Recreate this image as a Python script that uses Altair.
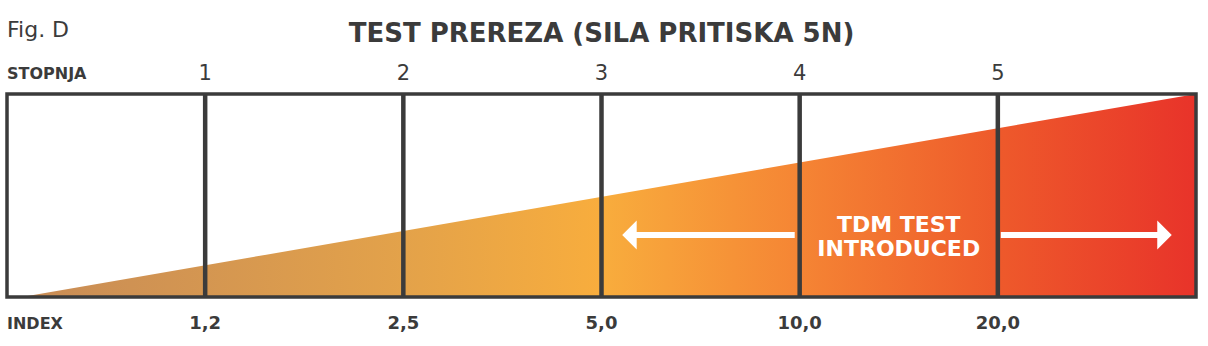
import altair as alt
import pandas as pd

# ---- data ----
stage_positions = [1, 2, 3, 4, 5]
stage_labels = ["1", "2", "3", "4", "5"]
index_labels = ["1,2", "2,5", "5,0", "10,0", "20,0"]
box_x = [0]
box_x2 = [6]
wedge_x = [0.075, 6]
wedge_y = [0, 1]
arrow_dir = ["left", "right"]
arrow_from = [3.975, 5.015]
arrow_to = [3.141, 5.841]
note_lines = ["TDM TEST", "INTRODUCED"]
note_x = 4.5
title_text = "TEST PREREZA (SILA PRITISKA 5N)"
fig_label = "Fig. D"
top_axis_title = "STOPNJA"
bottom_axis_title = "INDEX"

GREY = "#3b3b3b"
FONT = "DejaVu Sans"

xs = alt.Scale(domain=[0, 6], nice=False, zero=False)
ys = alt.Scale(domain=[0, 1], nice=False, zero=False)

stages = pd.DataFrame({"x": stage_positions, "stage": stage_labels, "index": index_labels})
wedge = pd.DataFrame({"x": wedge_x, "y": wedge_y})
box = pd.DataFrame({"x": box_x, "x2": box_x2})
arrows = pd.DataFrame({"dir": arrow_dir, "x": arrow_from, "x2": arrow_to})

grad = alt.Gradient(
    gradient="linear",
    stops=[
        alt.GradientStop(color="#c88c56", offset=0),
        alt.GradientStop(color="#d49651", offset=0.156),
        alt.GradientStop(color="#e3a24a", offset=0.325),
        alt.GradientStop(color="#f8ad3d", offset=0.493),
        alt.GradientStop(color="#f58534", offset=0.662),
        alt.GradientStop(color="#ee5a2b", offset=0.83),
        alt.GradientStop(color="#e8332a", offset=1),
    ],
    x1=0, x2=1, y1=1, y2=1,
)

area = alt.Chart(wedge).mark_area(color=grad, line=False).encode(
    x=alt.X("x:Q", scale=xs, axis=None),
    y=alt.Y("y:Q", scale=ys, axis=None),
)

arrow_lines = alt.Chart(arrows).mark_rule(color="white", strokeWidth=6).encode(
    x=alt.X("x:Q", scale=xs),
    x2="x2:Q",
    y=alt.value(141),
)

heads = alt.Chart(arrows).mark_point(filled=True, color="white", opacity=1, size=841, strokeWidth=0).encode(
    x=alt.X("x2:Q", scale=xs),
    y=alt.value(141),
    shape=alt.Shape(
        "dir:N",
        scale=alt.Scale(domain=["left", "right"],
                        range=["M0.5,-1L-0.5,0L0.5,1Z", "M-0.5,-1L0.5,0L-0.5,1Z"]),
        legend=None,
    ),
)

vlines = alt.Chart(stages).mark_rule(color=GREY, strokeWidth=4.5).encode(
    x=alt.X("x:Q", scale=xs),
    y=alt.value(0),
    y2=alt.value(203),
)

frame = alt.Chart(box).mark_rect(filled=False, stroke=GREY, strokeWidth=3.5).encode(
    x=alt.X("x:Q", scale=xs),
    x2="x2:Q",
    y=alt.value(0),
    y2=alt.value(203),
)

top_nums = alt.Chart(stages).mark_text(font=FONT, fontSize=21, color=GREY, baseline="alphabetic").encode(
    x=alt.X("x:Q", scale=xs), y=alt.value(-14), text="stage:N"
)
bot_nums = alt.Chart(stages).mark_text(font=FONT, fontSize=18, fontWeight="bold", color=GREY, baseline="alphabetic").encode(
    x=alt.X("x:Q", scale=xs), y=alt.value(235), text="index:N"
)

def label(txt, xval, yval, size, weight, align, col=GREY):
    return alt.Chart(pd.DataFrame({"x": [xval], "t": [txt]})).mark_text(
        font=FONT, fontSize=size, fontWeight=weight, color=col, align=align, baseline="alphabetic"
    ).encode(x=alt.X("x:Q", scale=xs), y=alt.value(yval), text="t:N")

title = label(title_text, 3.0, -52, 26, "bold", "center")
fig = label(fig_label, 0, -57, 22, "normal", "left")
stop = label(top_axis_title, 0, -15, 16, "bold", "left")
idx = label(bottom_axis_title, 0, 235, 16, "bold", "left")
note1 = label(note_lines[0], note_x, 138, 22, "bold", "center", "white")
note2 = label(note_lines[1], note_x, 162, 22, "bold", "center", "white")

chart = alt.layer(
    area, arrow_lines, heads, vlines, frame, top_nums, bot_nums, title, fig, stop, idx, note1, note2
).properties(
    width=1189, height=203,
    autosize=alt.AutoSizeParams(type="none"),
    padding={"left": 7, "top": 94, "right": 12, "bottom": 49},
    background="white",
).configure_view(stroke=None)

chart.save("out.html", embed_options={"renderer": "svg", "actions": False})
